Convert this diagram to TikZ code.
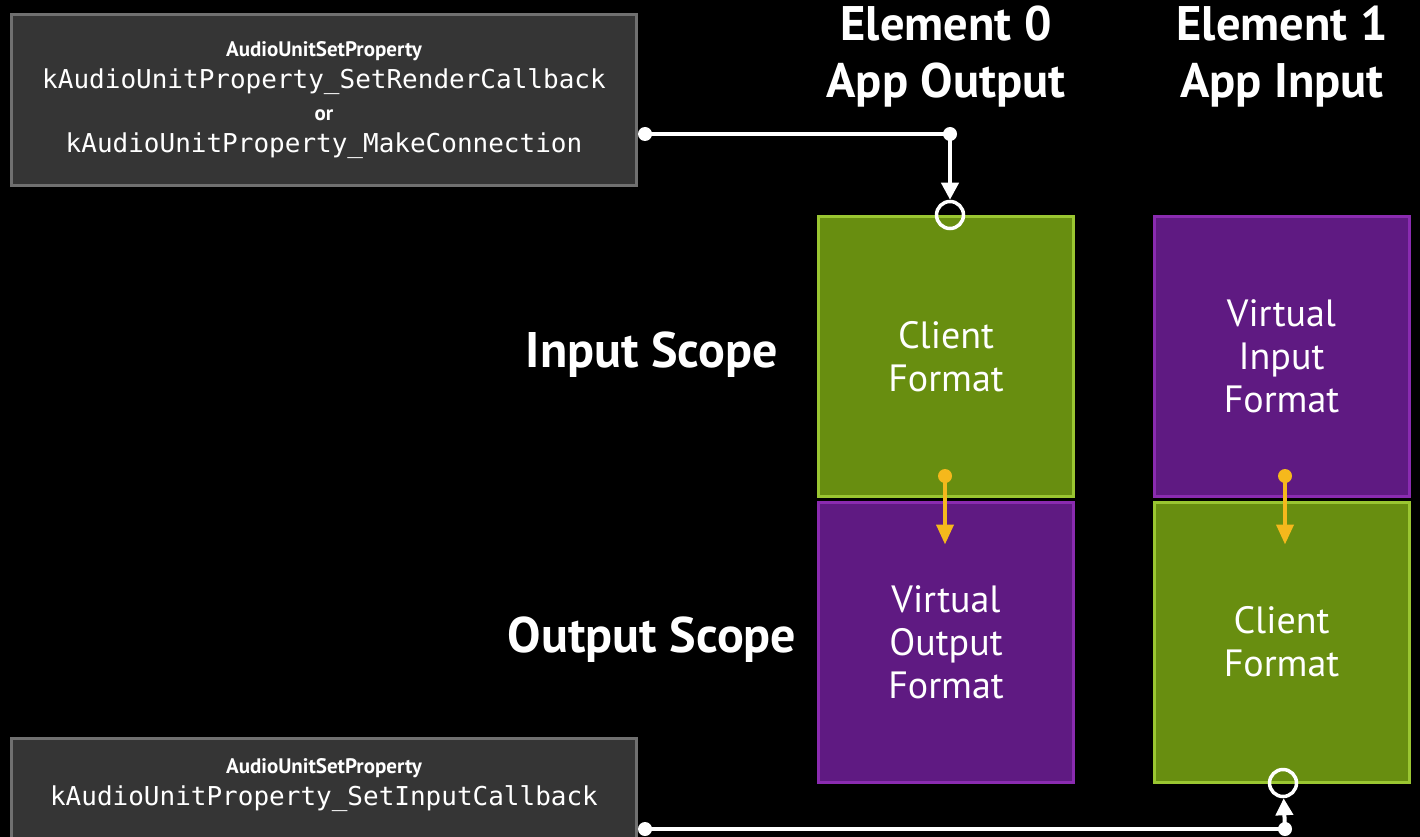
\documentclass[tikz,border=0pt]{standalone}
\usepackage{fontspec}
\setmainfont{PT Sans}
\setmonofont{DejaVu Sans Mono}
\usetikzlibrary{arrows.meta,positioning}

\definecolor{panel}{HTML}{353535}
\definecolor{panelrim}{HTML}{707070}
\definecolor{clientfill}{HTML}{688E10}
\definecolor{clientrim}{HTML}{9AC631}
\definecolor{virtfill}{HTML}{5F1A82}
\definecolor{virtrim}{HTML}{8A2BB0}
\definecolor{flow}{HTML}{F5B81C}

\newcommand{\callname}{{\fontsize{21}{32}\selectfont\rmfamily\bfseries AudioUnitSetProperty}}

\begin{document}
\begin{tikzpicture}[
  x=1pt, y=-1pt,
  every node/.style={text=white, align=center, inner sep=0pt},
  callbox/.style={draw=panelrim, fill=panel, line width=3pt,
    minimum width=625pt},
  calltext/.style={font=\fontsize{26}{32}\selectfont\ttfamily},
  fmtbox/.style={line width=3pt, minimum width=255pt, minimum height=280pt,
    font=\fontsize{38}{43}\selectfont},
  client/.style={fmtbox, fill=clientfill, draw=clientrim},
  virtual/.style={fmtbox, fill=virtfill, draw=virtrim},
  head/.style={font=\fontsize{48.5}{57}\selectfont\bfseries},
  scope/.style={font=\fontsize{50}{56}\selectfont\bfseries},
  port/.style={circle, draw=white, line width=3.5pt, minimum size=27pt},
  tap/.style={circle, fill=#1, minimum size=14pt},
  wire/.style={draw=white, line width=4pt, -{Triangle[length=17pt, width=17pt]}},
  flowwire/.style={draw=flow, line width=4pt, -{Triangle[length=20pt, width=17pt]}}
]
  \fill[black] (0,0) rectangle (1420,837);
  \useasboundingbox (0,0) rectangle (1420,837);
  \clip (0,0) rectangle (1420,837);

  % property calls
  \node[callbox, calltext, minimum height=171pt] (setrender) at (324,100)
    {\callname\\
     kAudioUnitProperty\_SetRenderCallback\\
     {\fontsize{21}{32}\selectfont\rmfamily\bfseries or}\\
     kAudioUnitProperty\_MakeConnection};
  \node[callbox, minimum height=120pt, anchor=north] (setinput) at (324,737) {};
  \node[calltext, below=21pt of setinput.north]
    {\callname\\
     kAudioUnitProperty\_SetInputCallback};

  % element columns
  \node[head] (el0) at (946,57) {Element 0\\App Output};
  \node[head] (el1) at (1282,57) {Element 1\\App Input};

  \node[client] (in0) at (946,356.5) {Client\\Format};
  \node[virtual] (out0) at (946,642) {Virtual\\Output\\Format};
  \node[virtual] (in1) at (1281.5,356.5) {Virtual\\Input\\Format};
  \node[client] (out1) at (1281.5,642) {Client\\Format};

  \node[scope] (inscope) at (652,355) {Input Scope};
  \node[scope] (outscope) at (652,640) {Output Scope};

  % buses
  \node[port] (bus0) at (950,215) {};
  \node[port] (bus1) at (1283,783) {};

  \coordinate (rendertap) at (645,134);
  \coordinate (rendercorner) at (950,134);
  \coordinate (inputtap) at (645,829);
  \coordinate (inputcorner) at (1285,829);
  \draw[line width=4pt, white] (rendertap) -- (rendercorner);
  \draw[wire] (rendercorner) -- (bus0);
  \draw[line width=4pt, white] (inputtap) -- (inputcorner);
  \draw[wire] (inputcorner) -- (bus1);
  \foreach \p in {rendertap, rendercorner, inputtap, inputcorner}
    \node[tap=white] at (\p) {};

  % format conversion
  \coordinate (conv0) at (945,476);
  \coordinate (conv1) at (1285,476);
  \draw[flowwire] (conv0) -- ([yshift=-44pt]out0.north -| conv0);
  \draw[flowwire] (conv1) -- ([yshift=-44pt]out1.north -| conv1);
  \node[tap=flow] at (conv0) {};
  \node[tap=flow] at (conv1) {};
\end{tikzpicture}
\end{document}
